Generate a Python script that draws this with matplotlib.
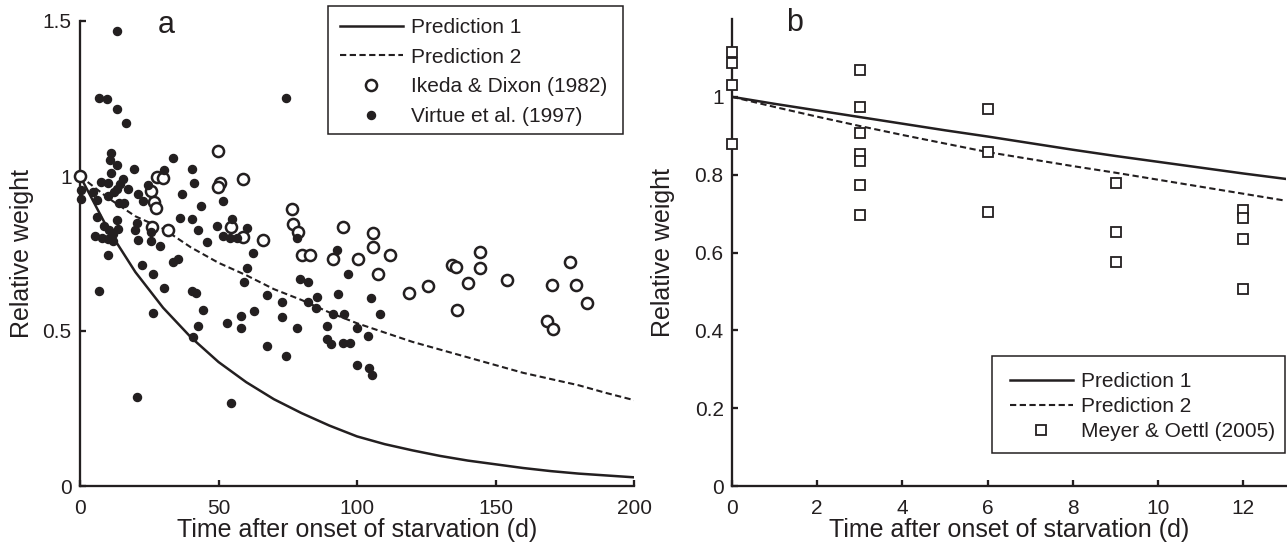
import matplotlib
matplotlib.use("Agg")
from matplotlib import pyplot as plt
from matplotlib.patches import Rectangle

plt.rcParams["font.family"] = ["Liberation Sans", "DejaVu Sans"]
plt.rcParams["lines.scale_dashes"] = False

INK = "#231f20"
DASH = (0, (4.5, 2.5))

# ---- panel a: long starvation experiments ----
pred_a_day = [0, 10, 20, 30, 40, 50, 60, 70, 80, 90, 100, 110, 120, 130, 140, 150, 160, 170, 180, 190, 200]
pred1_a = [1.0, 0.83, 0.69, 0.575, 0.48, 0.40, 0.335, 0.28, 0.235, 0.195, 0.16, 0.135, 0.115, 0.097,
           0.082, 0.07, 0.058, 0.048, 0.04, 0.034, 0.028]
pred2_a = [1.0, 0.93, 0.87, 0.83, 0.77, 0.72, 0.68, 0.635, 0.6, 0.56, 0.525, 0.495, 0.465, 0.44,
           0.415, 0.39, 0.365, 0.345, 0.325, 0.3, 0.277]

ikeda_day = [0, 49.9, 27.7, 30.1, 25.6, 26.8, 27.3, 25.9, 31.9, 50.5, 49.9, 59, 54.4, 59, 66.2,
             76.4, 76.8, 78.8, 80, 83, 91.2, 94.8, 105.9, 105.7, 111.9, 100.5, 107.7, 118.8,
             125.7, 134.4, 135.6, 144.4, 144.4, 140.2, 136, 154.2, 176.9, 170.3, 179.1, 182.9,
             168.7, 170.9]
ikeda_weight = [1.0, 1.082, 0.998, 0.992, 0.952, 0.916, 0.898, 0.836, 0.827, 0.976, 0.963, 0.99,
                0.836, 0.803, 0.792, 0.895, 0.846, 0.819, 0.745, 0.745, 0.731, 0.834, 0.815,
                0.770, 0.746, 0.731, 0.684, 0.624, 0.646, 0.714, 0.708, 0.754, 0.702, 0.654,
                0.569, 0.663, 0.721, 0.649, 0.649, 0.589, 0.533, 0.505]

virtue_day = [0.4, 0.4, 4.8, 7.5, 10, 15.6, 14.4, 13.2, 12.2, 10.2, 17.4, 6, 14, 16, 21, 22.6, 24.7,
              13.2, 7, 9.6, 13.2, 16.5, 74.4,
              11.1, 11, 13.2, 11.1, 19.4, 33.4, 30.3, 40.6, 41.2, 36.8, 43.7, 51.5,
              6.3, 8.8, 10.5, 13.2, 13.6, 5.4, 7.8, 10.2, 12, 11.8,
              20.4, 19.8, 20.9, 25.6, 25.6, 28.8, 36.1, 40.5, 42.7, 45.7, 49.3, 54.8, 51.6, 54.2,
              56.6, 60.2, 78.3, 92.8, 62.4,
              10.2, 22.5, 26.2, 33.7, 35.5, 7, 30.2, 26.2, 40.6, 41.7, 44.5, 42.7, 40.7, 20.5, 54.5,
              53, 58.1, 58.1, 62.8, 60.2, 59.2, 67.5, 73.1, 73.1, 67.5, 74.3, 79.4, 82.4, 85.6,
              82.4, 85.2, 78.4, 89, 91.5, 93.3, 95.3, 96.9, 89, 90.6, 94.8, 97.5, 99.9, 100,
              104.1, 104.2, 105.3, 105, 108.3]
virtue_weight = [0.955, 0.925, 0.950, 0.981, 0.978, 0.99, 0.973, 0.959, 0.947, 0.937, 0.959, 0.922,
                 0.913, 0.913, 0.942, 0.918, 0.970,
                 1.467, 1.252, 1.247, 1.217, 1.171, 1.252,
                 1.075, 1.052, 1.037, 1.011, 1.024, 1.058, 1.02, 1.023, 0.978, 0.941, 0.903, 0.918,
                 0.869, 0.84, 0.826, 0.858, 0.828, 0.806, 0.80, 0.797, 0.789, 0.814,
                 0.85, 0.826, 0.794, 0.819, 0.791, 0.773, 0.864, 0.862, 0.825, 0.788, 0.838, 0.862,
                 0.808, 0.801, 0.801, 0.831, 0.80, 0.76, 0.752,
                 0.744, 0.712, 0.684, 0.723, 0.731, 0.628, 0.64, 0.559, 0.63, 0.622, 0.568, 0.516,
                 0.481, 0.286, 0.267,
                 0.527, 0.549, 0.509, 0.563, 0.702, 0.657, 0.616, 0.592, 0.545, 0.451, 0.419, 0.668,
                 0.657, 0.61, 0.592, 0.574, 0.509, 0.516, 0.554, 0.619, 0.554, 0.684, 0.473, 0.457,
                 0.462, 0.462, 0.509, 0.39, 0.484, 0.38, 0.358, 0.607, 0.555]

# ---- panel b: short experiment ----
pred_b_day = [0, 1, 2, 3, 4, 5, 6, 7, 8, 9, 10, 11, 12, 13]
pred1_b = [1.0, 0.982, 0.965, 0.948, 0.931, 0.914, 0.898, 0.881, 0.864, 0.848, 0.833, 0.818, 0.803, 0.789]
pred2_b = [1.0, 0.974, 0.949, 0.925, 0.902, 0.88, 0.858, 0.84, 0.822, 0.805, 0.787, 0.769, 0.751, 0.733]

meyer_day = [0, 0, 0, 0, 3, 3, 3, 3, 3, 3, 3, 6, 6, 6, 9, 9, 9, 12, 12, 12, 12]
meyer_weight = [1.115, 1.088, 1.031, 0.880, 1.068, 0.975, 0.907, 0.853, 0.836, 0.774, 0.696,
                0.968, 0.858, 0.704, 0.778, 0.652, 0.575, 0.708, 0.688, 0.634, 0.506]

xticks_a = [0, 50, 100, 150, 200]
yticks_a = [0, 0.5, 1, 1.5]
ytick_labels_a = ["0", "0.5", "1", "1.5"]
xticks_b = [0, 2, 4, 6, 8, 10, 12]
yticks_b = [0, 0.2, 0.4, 0.6, 0.8, 1.0]
ytick_labels_b = ["0", "0.2", "0.4", "0.6", "0.8", "1"]

W, H = 1287, 547


def style_axes(ax):
    for side in ["top", "right"]:
        ax.spines[side].set_visible(False)
    for side in ["left", "bottom"]:
        ax.spines[side].set_linewidth(1.65)
        ax.spines[side].set_color(INK)
    ax.tick_params(direction="in", length=4.3, width=1.65, labelsize=15, pad=6,
                   colors=INK)
    ax.tick_params(axis="x", pad=9)


def frame_box(fig, left, top, right, bottom):
    fig.add_artist(Rectangle((left / W, 1 - bottom / H), (right - left) / W, (bottom - top) / H,
                             transform=fig.transFigure, fill=False, ec=INK, lw=1.1))


fig = plt.figure(figsize=(W / 100, H / 100), dpi=100)
ax1 = fig.add_axes([80 / W, 61 / H, 554 / W, 465 / H])
ax2 = fig.add_axes([732 / W, 61 / H, 554 / W, 467 / H])

# panel a
ax1.plot(pred_a_day, pred1_a, color=INK, lw=1.8, label="Prediction 1", zorder=2)
ax1.plot(pred_a_day, pred2_a, color=INK, lw=1.5, ls=DASH, label="Prediction 2", zorder=2)
ax1.plot(ikeda_day, ikeda_weight, "o", ms=8, mfc="white", mec=INK, mew=1.8, ls="none",
         clip_on=False, zorder=3, label="Ikeda & Dixon (1982)")
ax1.plot(virtue_day, virtue_weight, "o", ms=5.8, color=INK, ls="none", clip_on=False,
         zorder=4, label="Virtue et al. (1997)")
ax1.set_xlim(0, 200)
ax1.set_ylim(0, 1.5)
ax1.set_xticks(xticks_a)
ax1.set_yticks(yticks_a)
ax1.set_yticklabels(ytick_labels_a)
style_axes(ax1)
ax1.set_xlabel("Time after onset of starvation (d)", fontsize=18, color=INK)
ax1.set_ylabel("Relative weight", fontsize=18, color=INK)
ax1.xaxis.set_label_coords(0.5, -0.069)
ax1.yaxis.set_label_coords(-0.083, 0.5)
ax1.text(0.155, 0.974, "a", transform=ax1.transAxes, fontsize=22, ha="center",
         va="baseline", color=INK)
ax1.legend(loc="upper left", bbox_to_anchor=(340 / W, 1 - 18 / H), bbox_transform=fig.transFigure,
           frameon=False, borderpad=0, borderaxespad=0, handlelength=3.0, handletextpad=0.4,
           labelspacing=0.51, fontsize=15, numpoints=1, labelcolor=INK)
frame_box(fig, 328, 6, 623, 134)

# panel b
ax2.plot(pred_b_day, pred1_b, color=INK, lw=1.8, label="Prediction 1", zorder=2)
ax2.plot(pred_b_day, pred2_b, color=INK, lw=1.5, ls=DASH, label="Prediction 2", zorder=2)
ax2.plot(meyer_day, meyer_weight, "s", ms=7.6, mfc="white", mec=INK, mew=1.3, ls="none",
         clip_on=False, zorder=3, label="Meyer & Oettl (2005)")
ax2.set_xlim(0, 13)
ax2.set_ylim(0, 1.2)
ax2.set_xticks(xticks_b)
ax2.set_yticks(yticks_b)
ax2.set_yticklabels(ytick_labels_b)
style_axes(ax2)
ax2.set_xlabel("Time after onset of starvation (d)", fontsize=18, color=INK)
ax2.set_ylabel("Relative weight", fontsize=18, color=INK)
ax2.xaxis.set_label_coords(0.5, -0.069)
ax2.yaxis.set_label_coords(-0.103, 0.5)
ax2.text(0.112, 0.974, "b", transform=ax2.transAxes, fontsize=22, ha="center",
         va="baseline", color=INK)
ax2.legend(loc="upper left", bbox_to_anchor=(1010 / W, 1 - 372 / H), bbox_transform=fig.transFigure,
           frameon=False, borderpad=0, borderaxespad=0, handlelength=3.0, handletextpad=0.4,
           labelspacing=0.29, fontsize=15, numpoints=1, labelcolor=INK)
frame_box(fig, 992, 356, 1285, 453)

fig.savefig("out.png", dpi=100)
